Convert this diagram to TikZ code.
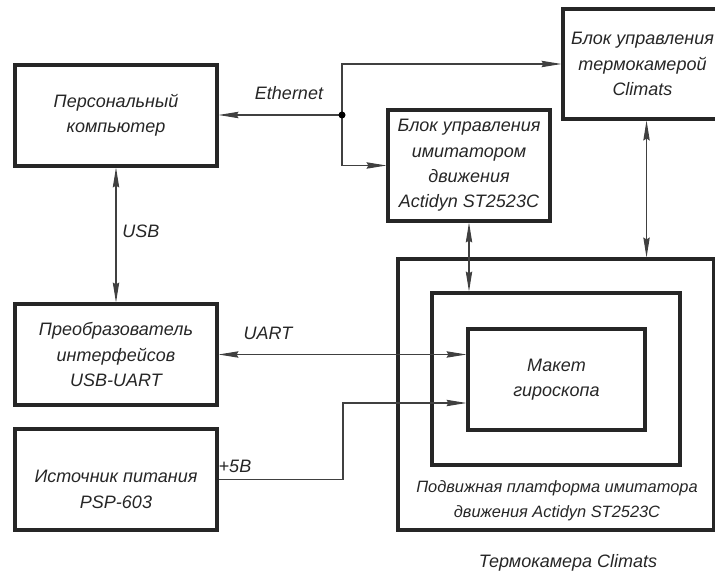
\documentclass[tikz,border=0pt]{standalone}
\usepackage{fontspec}
\setmainfont{Liberation Sans}
\usetikzlibrary{arrows.meta}
\begin{document}
\begin{tikzpicture}[x=0.75pt,y=-0.75pt,
  txt/.style={font=\itshape\fontsize{13.5}{19}\selectfont, text=black!85},
  blk/.style={txt, draw=black!85, line width=2.3pt, align=center, inner sep=0pt},
  lbl/.style={txt, inner sep=0pt, anchor=base},
  con/.style={draw=black!75, line width=0.8pt},
  >={Stealth[length=15pt,width=4.8pt,inset=1.5pt]}]
\useasboundingbox (0,0) rectangle (715,573);
\node[blk, minimum width=151.5pt, minimum height=75.75pt] (pc) at (116,115.5) {Персональный\\компьютер};
\node[blk, minimum width=151.5pt, minimum height=75.75pt] (conv) at (116,354.5) {Преобразователь\\интерфейсов\\USB-UART};
\node[blk, minimum width=151.5pt, minimum height=75.75pt] (src) at (116,479.5) {\rule{0pt}{24pt}Источник питания\\PSP-603};
\node[blk, minimum width=121.5pt, minimum height=83.25pt] (mid) at (469,165.5) {Блок управления\\имитатором\\движения\\Actidyn ST2523C};
\node[blk, minimum width=119.25pt, minimum height=82.5pt] (clim) at (642.5,64) {Блок управления\\термокамерой\\Climats};
\node[blk, minimum width=237pt, minimum height=203.25pt] (outer) at (556,394.5) {};
\node[blk, minimum width=186pt, minimum height=129pt] (plat) at (556,379) {};
\node[blk, minimum width=132.75pt, minimum height=75.75pt] (gyro) at (556.5,379.5) {Макет\\гироскопа};
\node[lbl, align=center, font=\itshape\fontsize{12.3}{19}\selectfont] (platlbl) at (557,518) {Подвижная платформа имитатора\\движения Actidyn ST2523C};
\node[lbl] (termlbl) at (568,568) {Термокамера Climats};
\node[lbl] (eth) at (289,100) {Ethernet};
\node[lbl] (usb) at (141,238) {USB};
\node[lbl] (uart) at (268,340) {UART};
\node[lbl] (pwr) at (235,473) {+5В};
\coordinate (j) at (342,115);
\coordinate (k) at (343,403);
\draw[con,->] (j) -- (j -| pc.east);
\draw[con,->] (j) |- (clim.west);
\draw[con,->] (j) |- (mid.west);
\fill[black] (j) circle[radius=3.5];
\draw[con,<->] (pc.south) -- (conv.north);
\draw[con,<->] (conv.east) -- (conv.east -| gyro.west);
\draw[con,->] (src.east) -| (k) -- (k -| gyro.west);
\draw[con,<->] (mid.south) -- (mid.south |- plat.north);
\draw[con,<->] (clim.south -| gyro.east) -- (gyro.east |- outer.north);
\end{tikzpicture}
\end{document}
